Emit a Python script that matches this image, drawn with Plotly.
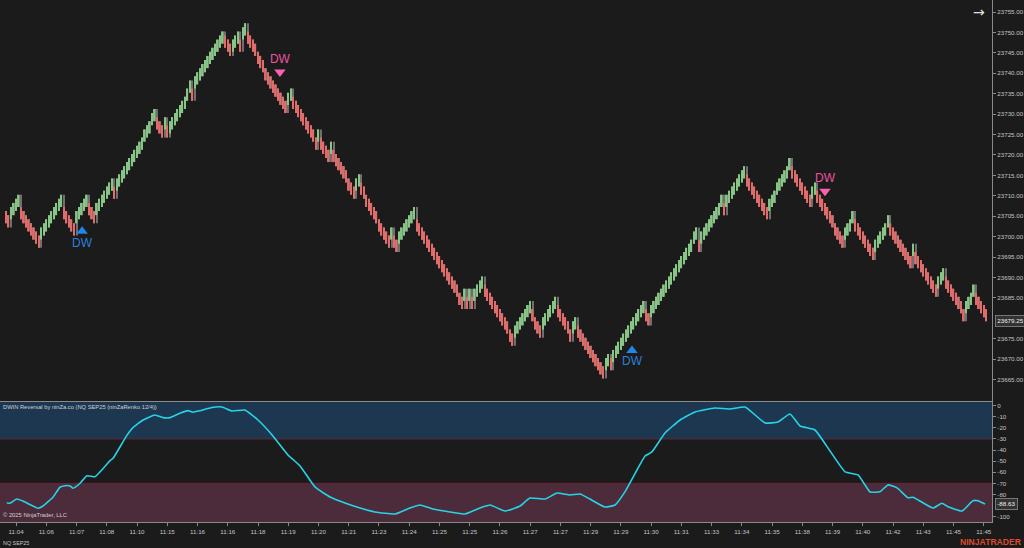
import plotly.graph_objects as go

closes = [
23703.25,23702.25,23707.25,23708.25,23709.25,23710.25,
23704.25,23703.25,23702.25,23701.25,23700.25,23699.25,23698.25,23697.25,
23702.25,23703.25,23704.25,23705.25,23706.25,23707.25,23708.25,23709.25,23710.25,
23704.25,23703.25,23702.25,23701.25,23700.25,
23706.25,23707.25,23708.25,23709.25,23710.25,
23705.25,23704.25,23703.25,
23708.25,23709.25,23710.25,23711.25,23712.25,23713.25,23714.25,
23709.25,23714.25,23715.25,
23716.25,23717.25,23718.25,23719.25,23720.25,23721.25,23722.25,23723.25,23724.25,23726.25,23727.25,23728.25,23730.25,23731.25,
23726.25,23725.25,23724.25,23729.25,23724.25,
23728.25,23729.25,23730.25,23731.25,23732.25,23733.25,23734.25,23736.25,23738.25,
23733.25,
23739.25,23740.25,23741.25,23742.25,23743.25,23744.25,23745.25,23746.25,23747.25,23748.25,23749.25,23750.25,
23746.25,23745.25,23744.25,
23748.25,23749.25,23750.25,23745.25,23751.25,23752.25,
23747.25,23746.25,23745.25,23744.25,23742.25,23741.25,23740.25,23738.25,23737.25,23736.25,23735.25,23734.25,23733.25,23732.25,23731.25,23730.25,
23735.25,23736.25,
23731.25,23730.25,23729.25,23728.25,23727.25,23726.25,23725.25,23724.25,23723.25,23721.25,
23726.25,
23721.25,23720.25,23719.25,23718.25,
23723.25,
23718.25,23717.25,23716.25,23715.25,23714.25,23713.25,23711.25,23710.25,23709.25,
23714.25,23715.25,
23710.25,23709.25,23707.25,23706.25,23705.25,23704.25,23703.25,23701.25,23700.25,23699.25,23698.25,23697.25,
23702.25,
23697.25,23696.25,
23701.25,23702.25,23703.25,23704.25,23705.25,23706.25,23707.25,
23701.25,23700.25,23699.25,23698.25,23697.25,23696.25,23695.25,23694.25,23693.25,23692.25,23691.25,23690.25,23689.25,23688.25,23687.25,23686.25,23685.25,23683.25,23682.25,
23687.25,23682.25,23687.25,23682.25,23687.25,23688.25,23689.25,23690.25,
23685.25,23684.25,23683.25,23682.25,23681.25,23680.25,23679.25,23678.25,23677.25,23676.25,23674.25,23673.25,
23678.25,23679.25,23680.25,23681.25,23682.25,23683.25,23684.25,
23679.25,23677.25,23676.25,23675.25,
23680.25,23681.25,23682.25,23683.25,23684.25,23685.25,
23680.25,23679.25,23678.25,23677.25,23676.25,23674.25,
23679.25,23680.25,
23675.25,23674.25,23673.25,23672.25,23671.25,23670.25,23669.25,23668.25,23667.25,23666.25,23665.25,
23670.25,23671.25,
23667.25,
23672.25,23673.25,23674.25,23675.25,23676.25,23677.25,23678.25,23679.25,23680.25,23681.25,23682.25,23683.25,23684.25,
23679.25,23678.25,
23683.25,23684.25,23685.25,23686.25,23687.25,23688.25,23689.25,23690.25,23691.25,23692.25,23693.25,23694.25,23695.25,23696.25,23697.25,23698.25,23699.25,23701.25,23702.25,
23696.25,
23701.25,23702.25,23703.25,23704.25,23705.25,23706.25,23707.25,23708.25,23710.25,
23705.25,
23710.25,23711.25,23712.25,23713.25,23714.25,23715.25,23716.25,23717.25,
23712.25,23711.25,23710.25,23709.25,23708.25,23707.25,23706.25,23705.25,23704.25,
23709.25,23710.25,23711.25,23713.25,23714.25,23715.25,23716.25,23717.25,23719.25,
23714.25,23713.25,23712.25,23711.25,23710.25,23709.25,23708.25,23707.25,
23712.25,23713.25,
23708.25,23707.25,23706.25,23705.25,23704.25,23703.25,23702.25,23700.25,23699.25,23698.25,23697.25,
23702.25,23703.25,23704.25,23706.25,
23701.25,23700.25,23699.25,23698.25,23697.25,23696.25,23695.25,23694.25,
23699.25,23700.25,23701.25,23702.25,23703.25,23705.25,
23700.25,23699.25,23698.25,23697.25,23696.25,23695.25,23694.25,23693.25,23692.25,
23698.25,
23693.25,23692.25,23691.25,23690.25,23689.25,23688.25,23687.25,23686.25,23685.25,
23690.25,23691.25,23692.25,
23687.25,23686.25,23685.25,23684.25,23683.25,23682.25,23681.25,23679.25,
23684.25,23685.25,23686.25,23688.25,
23683.25,23682.25,23681.25,23680.25,23679.25,
]

osc_bar = [0.3,1.6,4.2,6.7,12.8,14.7,18.7,21.4,23.4,25.4,26.6,29.4,32.1,35.3,37.3,41.3,42.5,47.9,50.4,54.4,
           59.1,62.3,65.1,69,72.2,74.2,77,81.7,85.7,89.7,94.8,100,105.6,111.9,116.7,122.6,128.6,134.5,140.5,146.4,
           154.4,160.3,164.3,169.4,176.2,182.1,188.1,192.1,198,204,207.9,213.9,218.7,223.8,227.8,231.7,237.7,241.7,245.6,250.4,
           253.6,256.3,261.5,267.5,273.4,281.3,287.3,293.3,301.2,306.3,311.1,315.1,321,327,333,338.1,342.9,346.8,350,353.6,
           357.9,359.9,363.5,367.9,371.4,373.8,379.4,383.7,385.7,388.5]
osc_val = [-87.4,-87.9,-84.1,-85.9,-92.4,-90.4,-82.3,-73.5,-72.1,-72.3,-74.4,-69.9,-63.1,-64,-59.7,-49.5,-47.4,-27,-19.8,-12.9,
           -8.4,-10.8,-10.8,-6.8,-4.5,-5.9,-4.5,-1.6,-1.2,-4.8,-3.9,-12.9,-26.4,-44.4,-54.3,-73.2,-82.3,-87.7,-92.2,-95.8,
           -97.6,-92.2,-89.5,-93.1,-95.8,-97.6,-92.2,-89.5,-94.9,-90.4,-83.2,-84.1,-78.7,-80.5,-79.6,-84.1,-91.3,-89.5,-77.7,-57.9,
           -45.3,-41.7,-24.6,-12.9,-5.7,-2.1,-3,-1.2,-15.6,-14.7,-7.5,-18.3,-21.9,-40.8,-59.7,-62.4,-77.7,-77.5,-71.4,-74.1,
           -82.9,-82.5,-87,-92.2,-87.9,-91,-94.9,-85.6,-85.6,-88.63]

time_tick_bars = [4+12*k for k in range(33)]
time_tick_labels = ["11:04","11:06","11:07","11:08","11:10","11:15","11:16","11:16","11:18","11:19","11:20",
                    "11:21","11:23","11:24","11:25","11:25","11:26","11:27","11:27","11:29","11:29","11:30",
                    "11:31","11:33","11:34","11:35","11:38","11:39","11:40","11:42","11:43","11:45","11:45"]
price_ticks = [23665,23670,23675,23685,23690,23695,23700,23705,23710,23715,23720,23725,23730,
               23735,23740,23745,23750,23755]
osc_ticks = [0,-10,-20,-30,-40,-50,-60,-70,-80,-100]

dw_up_bar = [30.2,248.4]
dw_up_price = [23701.3,23672.1]
dw_up_text_price = [23698.3,23669.2]
dw_dn_bar = [108.7,325]
dw_dn_price = [23740.3,23711.1]
dw_dn_text_price = [23743.2,23714.0]

BG = "#1b1b1b"
AXIS = "#8a8a8a"
TXT = "#c4c4c4"
FONT = "Liberation Sans"
GREEN = "#8ad08a"
RED = "#ee6c6c"
WICK = "#6f6f6f"
BRICK = 3.0

bars = list(range(len(closes)))
body_base, body_height, colours, wick_base, wick_height = [], [], [], [], []
for i, c in enumerate(closes):
    prev = closes[i-1] if i else c + 1
    up = c > prev
    op = c - BRICK if up else c + BRICK
    lo = min(c, op, prev)
    hi = max(c, op, prev)
    body_base.append(min(op, c))
    body_height.append(BRICK)
    colours.append(GREEN if up else RED)
    wick_base.append(lo)
    wick_height.append(hi - lo)

fig = go.Figure()
fig.add_trace(go.Bar(x=bars, y=wick_height, base=wick_base, width=0.42, marker=dict(color=WICK, line_width=0),
                     hoverinfo="skip", xaxis="x", yaxis="y"))
fig.add_trace(go.Bar(x=bars, y=body_height, base=body_base, width=0.58,
                     marker=dict(color=colours, line_width=0), opacity=0.9,
                     hoverinfo="skip", xaxis="x", yaxis="y"))
fig.add_trace(go.Scatter(x=dw_up_bar, y=dw_up_price, mode="markers", xaxis="x", yaxis="y",
                         marker=dict(symbol="triangle-up", size=10, color="#1f86ee")))
fig.add_trace(go.Scatter(x=dw_up_bar, y=dw_up_text_price, mode="text", text=["DW", "DW"], xaxis="x", yaxis="y",
                         textfont=dict(family=FONT, size=12, color="#2a7fdc")))
fig.add_trace(go.Scatter(x=dw_dn_bar, y=dw_dn_price, mode="markers", xaxis="x", yaxis="y",
                         marker=dict(symbol="triangle-down", size=10, color="#ff5fb0")))
fig.add_trace(go.Scatter(x=dw_dn_bar, y=dw_dn_text_price, mode="text", text=["DW", "DW"], xaxis="x", yaxis="y",
                         textfont=dict(family=FONT, size=12, color="#e8559e")))
fig.add_trace(go.Scatter(x=osc_bar, y=osc_val, mode="lines", xaxis="x2", yaxis="y2",
                         line=dict(color="#27d3e6", width=1.6, shape="spline", smoothing=0.4)))
fig.add_trace(go.Scatter(x=[392.6], y=[closes[-1]], mode="markers", xaxis="x", yaxis="y", cliponaxis=False,
                         marker=dict(symbol="triangle-left", size=8, color="#8a8a8a")))
fig.add_trace(go.Scatter(x=[392.6], y=[osc_val[-1]], mode="markers", xaxis="x2", yaxis="y2", cliponaxis=False,
                         marker=dict(symbol="triangle-left", size=8, color="#8a8a8a")))

XR = [-2.38, 391.27]
XD = [0, 992/1024]
common_y = dict(side="right", showgrid=False, zeroline=False, showline=True, linecolor=AXIS, linewidth=1.2,
                ticks="outside", ticklen=3, tickcolor=AXIS, tickfont=dict(family=FONT, size=6.2, color=TXT))
fig.update_layout(
    width=1024, height=548, margin=dict(l=0, r=0, t=0, b=0), autosize=False,
    paper_bgcolor=BG, plot_bgcolor=BG, showlegend=False, barmode="overlay",
    font=dict(family=FONT, color=TXT),
    xaxis=dict(domain=XD, range=XR, anchor="y", showgrid=False, zeroline=False, showticklabels=False,
               ticks="", showline=True, linecolor=AXIS, linewidth=1),
    xaxis2=dict(domain=XD, range=XR, anchor="y2", showgrid=False, zeroline=False, showline=True, linecolor=AXIS,
                linewidth=1.2, ticks="outside", ticklen=3, tickcolor=AXIS, tickmode="array",
                tickvals=time_tick_bars, ticktext=time_tick_labels,
                tickfont=dict(family=FONT, size=6.2, color=TXT)),
    yaxis=dict(domain=[1-400.5/548, 1], range=[23659.86, 23757.94], anchor="x", tickmode="array",
               tickvals=price_ticks, ticktext=[f"{v:.2f}" for v in price_ticks], **common_y),
    yaxis2=dict(domain=[(548-522)/548, (548-401)/548], range=[-104.8, 4.2], anchor="x2", tickmode="array",
                tickvals=osc_ticks, ticktext=[str(v) for v in osc_ticks], **common_y),
    shapes=[
        dict(type="rect", layer="below", xref="x2 domain", yref="y2", x0=0, x1=1, y0=-30, y1=4.2,
             fillcolor="#1d3750", line_width=0),
        dict(type="rect", layer="below", xref="x2 domain", yref="y2", x0=0, x1=1, y0=-104.8, y1=-70,
             fillcolor="#4c2c3b", line_width=0),
        dict(type="line", layer="below", xref="x2 domain", yref="y2", x0=0, x1=1, y0=-30, y1=-30,
             line=dict(color="#5e2a3a", width=1)),
        dict(type="line", layer="below", xref="x2 domain", yref="y2", x0=0, x1=1, y0=-70, y1=-70,
             line=dict(color="#6e2232", width=1)),
    ],
    annotations=[
        dict(text="DWIN Reversal by ninZa.co (NQ SEP25 (ninZaRenko 12/4))", xref="paper", yref="paper",
             x=1/1024, y=1-406.5/548, xanchor="left", yanchor="middle", showarrow=False,
             font=dict(family=FONT, size=5.75, color="#d0d0d0")),
        dict(text="© 2025 NinjaTrader, LLC", xref="paper", yref="paper", x=1/1024, y=1-515/548,
             xanchor="left", yanchor="middle", showarrow=False, font=dict(family=FONT, size=5.8, color="#d0d0d0")),
        dict(text="NQ SEP25", xref="paper", yref="paper", x=1/1024, y=1-543/548, xanchor="left",
             yanchor="middle", showarrow=False, font=dict(family=FONT, size=5.4, color=TXT)),
        dict(text="<b>NINJATRADER</b>", xref="paper", yref="paper", x=1, y=1-542/548, xanchor="right",
             yanchor="middle", showarrow=False, font=dict(family=FONT, size=8.6, color="#df4a2c")),
        dict(text="→", xref="paper", yref="paper", x=979/1024, y=1-12/548, xanchor="center", yanchor="middle",
             showarrow=False, font=dict(family="DejaVu Sans", size=14, color="#e0e0e0")),
        dict(text=f"{closes[-1]:.2f}", xref="paper", yref="y", x=995/1024, y=closes[-1], xanchor="left",
             yanchor="middle", showarrow=False, bgcolor="#333333", bordercolor="#8a8a8a", borderwidth=0.8, borderpad=1.5,
             font=dict(family=FONT, size=6.2, color="#f0f0f0")),
        dict(text=f"{osc_val[-1]:.2f}", xref="paper", yref="y2", x=995/1024, y=osc_val[-1], xanchor="left",
             yanchor="middle", showarrow=False, bgcolor="#333333", bordercolor="#8a8a8a", borderwidth=0.8, borderpad=1.5,
             font=dict(family=FONT, size=6.2, color="#f0f0f0")),
    ],
)
fig.write_html("out.html", config={"displayModeBar": False},
               post_script="document.body.style.margin='0';document.documentElement.style.background='#1b1b1b';")
